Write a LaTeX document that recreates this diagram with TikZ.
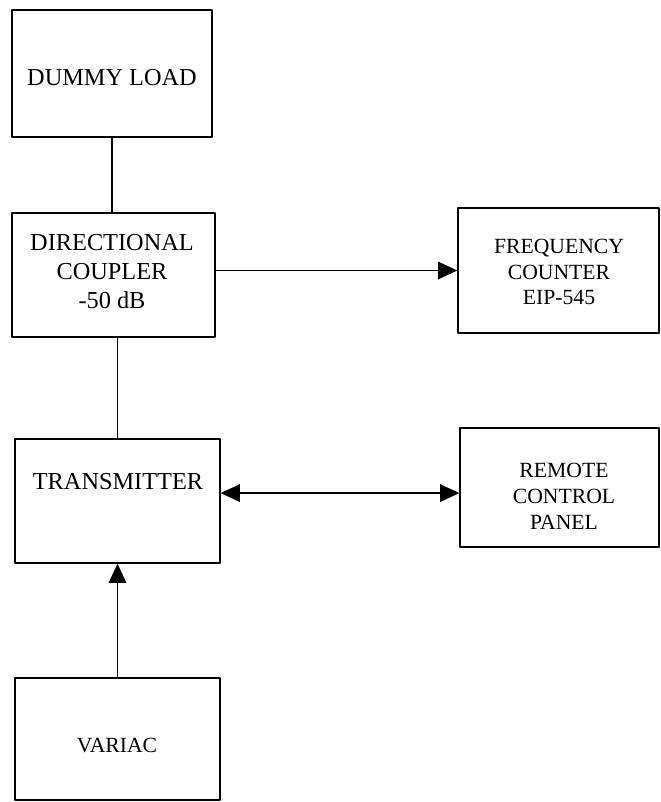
\documentclass[tikz,border=0pt]{standalone}
\usepackage{fontspec}
\setmainfont{Liberation Serif}
\usetikzlibrary{arrows.meta,calc}

\tikzset{
  block/.style={draw, line width=1pt, inner sep=0pt},
  bigtxt/.style={font=\fontsize{17.3}{20.6}\selectfont, align=center, inner sep=0pt},
  smalltxt/.style={font=\fontsize{15.4}{18.4}\selectfont, align=center, inner sep=0pt},
  arr/.style={-{Triangle[length=0.48cm, width=0.44cm]}},
  darr/.style={{Triangle[length=0.48cm, width=0.44cm]}-{Triangle[length=0.48cm, width=0.44cm]}}
}

\begin{document}
\begin{tikzpicture}[x=0.025cm, y=-0.025cm, line width=1pt, line cap=round, line join=round]
  \useasboundingbox (0,0) rectangle (661,802);

  % boxes
  \node[block, minimum width=5cm,     minimum height=3.175cm] (dl) at (112,73.5) {};
  \node[block, minimum width=5.075cm, minimum height=3.1cm]   (dc) at (113.5,275) {};
  \node[block, minimum width=5.025cm, minimum height=3.125cm] (fc) at (558.5,270.5) {};
  \node[block, minimum width=5.125cm, minimum height=3.1cm]   (tx) at (117.5,501) {};
  \node[block, minimum width=4.975cm, minimum height=2.975cm] (rc) at (559.5,487.5) {};
  \node[block, minimum width=5.125cm, minimum height=3.05cm]  (vr) at (117.5,739) {};

  % labels
  \node[bigtxt]   (dltext) at (112,78)  {DUMMY LOAD};
  \node[bigtxt]   (dctext) at (112,272) {DIRECTIONAL\\COUPLER\\-50 dB};
  \node[smalltxt] (fctext) at (559,272) {FREQUENCY\\COUNTER\\EIP-545};
  \node[bigtxt]   (txtext) at (118,482) {TRANSMITTER};
  \node[smalltxt] (rctext) at (564,496) {REMOTE\\CONTROL\\PANEL};
  \node[smalltxt] (vrtext) at (117,745) {VARIAC};

  % connections
  \draw (dl.south) -- (dl.south |- dc.north);
  \draw[arr] (fc.west -| dc.east) -- (fc.west);
  \draw (tx.north |- dc.south) -- (tx.north);
  \draw[darr] ([yshift=-0.14cm]rc.west -| tx.east) -- ([yshift=-0.14cm]rc.west);
  \draw[arr] (vr.north) -- (tx.south);
\end{tikzpicture}
\end{document}
